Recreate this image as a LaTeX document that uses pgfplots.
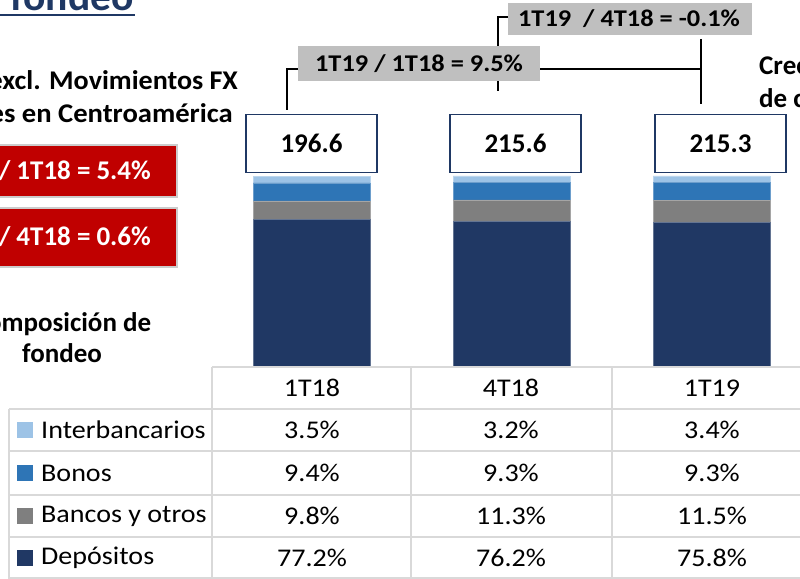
\documentclass[border=0pt]{standalone}
\usepackage{pgfplots}
\pgfplotsset{compat=1.18}
\usepackage{fontspec}
\setmainfont{Carlito}
\definecolor{cInter}{HTML}{9DC3E6}
\definecolor{cBonos}{HTML}{2E75B6}
\definecolor{cBancos}{HTML}{7F7F7F}
\definecolor{cDep}{HTML}{203864}
\definecolor{cRed}{HTML}{C00000}
\definecolor{cLbl}{HTML}{BFBFBF}
\definecolor{cGrid}{HTML}{D9D9D9}
\definecolor{cTitle}{HTML}{1F3864}
\tikzset{totbox/.style={draw=cTitle, line width=1.4pt, fill=white, minimum width=131pt, minimum height=58pt, inner sep=0pt, anchor=south, font=\fontsize{27}{30}\selectfont\bfseries}}
\begin{document}
\begin{tikzpicture}
\useasboundingbox (0,0) rectangle (800pt,578pt);
\clip (0,0) rectangle (800pt,578pt);
% ---- bars
\begin{axis}[
  at={(211.5pt,211pt)}, anchor=south west,
  scale only axis, width=600pt, height=191pt,
  xmin=-0.5, xmax=2.5, ymin=0, ymax=100,
  hide axis, clip=false,
  ybar stacked, bar width=117pt,
]
\addplot[fill=cDep, draw=cDep!70!white, line width=0.6pt] coordinates {(0,77.2) (1,76.2) (2,75.8)};
\addplot[fill=cBancos, draw=cBancos!70!white, line width=0.6pt] coordinates {(0,9.8) (1,11.3) (2,11.5)};
\addplot[fill=cBonos, draw=cBonos!70!white, line width=0.6pt] coordinates {(0,9.4) (1,9.3) (2,9.3)};
\addplot[fill=cInter, draw=cInter!70!white, line width=0.6pt] coordinates {(0,3.5) (1,3.2) (2,3.4)};
\coordinate (t0) at (axis cs:0,100);
\coordinate (t1) at (axis cs:1,100);
\coordinate (t2) at (axis cs:2,100);
\end{axis}
\node[totbox] at ([yshift=3pt]t0) {196.6};
\node[totbox] at ([xshift=4pt,yshift=3pt]t1) {215.6};
\node[totbox] at ([xshift=9pt,yshift=3pt]t2) {215.3};
% ---- decorations in image coordinates
\begin{scope}[x=1pt,y=-1pt,shift={(0pt,578pt)}]
% title
\node[anchor=base east, text=cTitle, xscale=1.04, font=\fontsize{40}{44}\selectfont\bfseries, inner sep=0pt] at (134,11) {Mezcla por fondeo};
\draw[cTitle, line width=2pt] (0,15.5) -- (135,15.5);
% left texts
\tikzset{bt/.style={inner sep=0pt, font=\fontsize{27}{30}\selectfont\bfseries}}
\node[bt, anchor=base east, xscale=1.04] at (238,90) {Crecimiento excl. Movimientos FX};
\node[bt, anchor=base east, xscale=1.06] at (233,123) {y adquisiciones en Centroamérica};
\fill[gray!40] (-2,144) rectangle (178,198);
\fill[cRed] (-2,146) rectangle (176,196);
\fill[gray!40] (-2,207) rectangle (178,268);
\fill[cRed] (-2,209) rectangle (176,266);
\node[bt, anchor=base east, text=white] at (151,180) {1T19 / 1T18 = 5.4\%};
\node[bt, anchor=base east, text=white] at (151,246) {1T19 / 4T18 = 0.6\%};
\node[bt, anchor=base] at (62,332) {Composición de};
\node[bt, anchor=base] at (62,363) {fondeo};
% right text
\node[bt, anchor=base west] at (759,75) {Crecimiento};
\node[bt, anchor=base west] at (759,108) {de captación};
% connectors
\draw[black, line width=1.3pt] (287,110) -- (287,69) -- (298,69);
\draw[black, line width=1.3pt] (540,69) -- (701,69);
\draw[black, line width=1.3pt] (701,39) -- (701,104);
\draw[black, line width=1.3pt] (498,91) -- (498,17) -- (508,17);
\fill[cLbl] (298,46) rectangle (540,81);
\fill[cLbl] (508,3) rectangle (752,35);
\node[inner sep=0pt, xscale=1.1, font=\fontsize{24}{26}\selectfont\bfseries] at (419,63.5) {1T19 / 1T18 = 9.5\%};
\node[inner sep=0pt, xscale=1.1, font=\fontsize{24}{26}\selectfont\bfseries] at (629,19) {1T19 ~/ 4T18 = -0.1\%};
% table grid
\draw[cGrid, line width=2pt] (212,367) -- (812,367);
\draw[cGrid, line width=2pt] (9,409) -- (812,409);
\draw[cGrid, line width=2pt] (9,451) -- (812,451);
\draw[cGrid, line width=2pt] (9,495) -- (812,495);
\draw[cGrid, line width=2pt] (9,537) -- (812,537);
\draw[cGrid, line width=2pt] (9,578) -- (812,578);
\draw[cGrid, line width=2pt] (9,409) -- (9,580);
\draw[cGrid, line width=2pt] (212,367) -- (212,580);
\draw[cGrid, line width=2pt] (411,367) -- (411,580);
\draw[cGrid, line width=2pt] (612,367) -- (612,580);
% table text
\tikzset{tt/.style={inner sep=0pt, xscale=1.1, font=\fontsize{25.5}{30}\selectfont}}
\node[tt] at (312,388) {1T18};
\node[tt] at (511,388) {4T18};
\node[tt] at (712,388) {1T19};
\node[tt] at (312,430) {3.5\%};
\node[tt] at (511,430) {3.2\%};
\node[tt] at (712,430) {3.4\%};
\node[tt] at (312,473) {9.4\%};
\node[tt] at (511,473) {9.3\%};
\node[tt] at (712,473) {9.3\%};
\node[tt] at (312,516) {9.8\%};
\node[tt] at (511,516) {11.3\%};
\node[tt] at (712,516) {11.5\%};
\node[tt] at (312,558) {77.2\%};
\node[tt] at (511,558) {76.2\%};
\node[tt] at (712,558) {75.8\%};
\node[tt, anchor=west] at (41,430) {Interbancarios};
\node[tt, anchor=west] at (41,473) {Bonos};
\node[tt, anchor=west] at (41,516) {Bancos y otros};
\node[tt, anchor=west] at (41,558) {Depósitos};
\fill[cInter] (17,422) rectangle (33,438);
\fill[cBonos] (17,465) rectangle (33,481);
\fill[cBancos] (17,508) rectangle (33,524);
\fill[cDep] (17,550) rectangle (33,566);
\end{scope}
\end{tikzpicture}
\end{document}
